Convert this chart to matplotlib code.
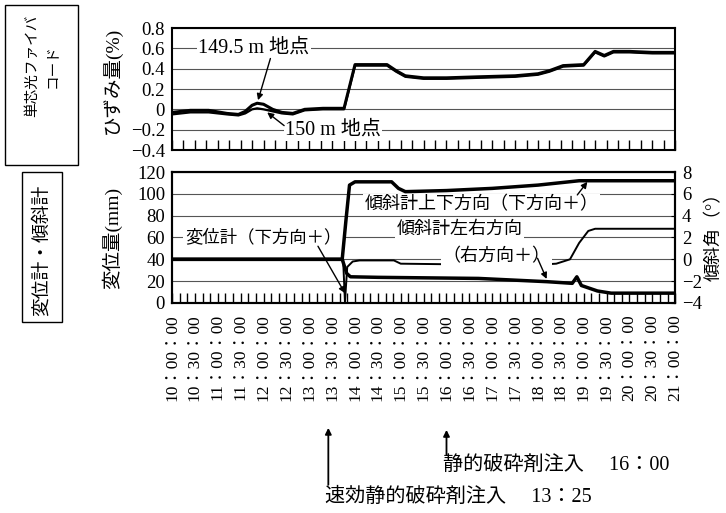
import matplotlib
matplotlib.use('Agg')
import matplotlib.pyplot as plt
import matplotlib.transforms as mtransforms
from matplotlib.patches import Rectangle
import numpy as np

plt.rcParams['font.family'] = ['Liberation Serif', 'Noto Sans CJK JP']
plt.rcParams['axes.linewidth'] = 1.5

# strain along the optical fibre (%), time in hours
t_strain = [10.0, 10.4, 10.8, 11.2, 11.45, 11.6, 11.75, 11.86, 12.0, 12.2, 12.4, 12.64,
            12.9, 13.3, 13.76, 14.0, 14.3, 14.7, 14.9, 15.1, 15.5, 16.0, 16.7, 17.5,
            18.0, 18.25, 18.55, 19.0, 19.25, 19.45, 19.65, 20.0, 20.5, 21.0]
strain_1495 = [-0.03, -0.01, -0.01, -0.04, -0.05, -0.02, 0.04, 0.06, 0.05, 0.0, -0.03, -0.04,
               0.0, 0.01, 0.01, 0.44, 0.44, 0.44, 0.38, 0.33, 0.31, 0.31, 0.32, 0.33,
               0.35, 0.38, 0.43, 0.44, 0.57, 0.53, 0.57, 0.57, 0.56, 0.56]
strain_150 = [-0.05, -0.03, -0.03, -0.05, -0.06, -0.04, 0.0, 0.01, 0.0, -0.02, -0.04, -0.05,
              -0.01, 0.0, 0.0, 0.43, 0.43, 0.43, 0.37, 0.32, 0.30, 0.30, 0.31, 0.32,
              0.34, 0.37, 0.42, 0.43, 0.56, 0.52, 0.56, 0.56, 0.55, 0.55]

# displacement meter, downward positive (mm)
t_disp = [10.0, 13.74, 13.78, 13.83, 13.95, 14.1, 14.85, 15.0, 16.0, 17.0, 18.0, 18.4,
          18.7, 18.9, 19.1, 19.25, 21.0]
disp = [40, 40, 1, 33, 38, 39, 39, 36, 35.5, 35, 35, 36, 40, 55, 66, 68, 68]

# inclinometer, up-down (deg)
t_ud = [10.0, 13.72, 13.8, 13.88, 14.0, 14.8, 14.95, 15.1, 16.0, 17.0, 18.0, 18.9, 21.0]
tilt_ud = [0, 0, 3.5, 6.8, 7.1, 7.1, 6.5, 6.2, 6.3, 6.5, 6.8, 7.2, 7.2]

# inclinometer, left-right (deg)
t_lr = [10.0, 13.72, 13.82, 13.9, 14.5, 16.7, 18.2, 18.75, 18.85, 18.95, 19.3, 19.6, 21.0]
tilt_lr = [0, 0, -1.3, -1.6, -1.65, -1.75, -2.05, -2.2, -1.6, -2.4, -2.9, -3.1, -3.1]

time_ticks = [10.0, 10.5, 11.0, 11.5, 12.0, 12.5, 13.0, 13.5, 14.0, 14.5, 15.0, 15.5,
              16.0, 16.5, 17.0, 17.5, 18.0, 18.5, 19.0, 19.5, 20.0, 20.5, 21.0]
time_labels = ['10：00：00', '10：30：00', '11：00：00', '11：30：00', '12：00：00',
               '12：30：00', '13：00：00', '13：30：00', '14：00：00', '14：30：00',
               '15：00：00', '15：30：00', '16：00：00', '16：30：00', '17：00：00',
               '17：30：00', '18：00：00', '18：30：00', '19：00：00', '19：30：00',
               '20：00：00', '20：30：00', '21：00：00']
strain_ticks = [-0.4, -0.2, 0, 0.2, 0.4, 0.6, 0.8]
strain_labels = ['−0.4', '−0.2', '0', '0.2', '0.4', '0.6', '0.8']
disp_ticks = [0, 20, 40, 60, 80, 100, 120]
tilt_ticks = [-4, -2, 0, 2, 4, 6, 8]
tilt_labels = ['−4', '−2', '0', '2', '4', '6', '8']

t_quick = 13 + 25 / 60   # 速効静的破砕剤
t_static = 16.0          # 静的破砕剤

arrow = dict(arrowstyle='-|>', color='k', lw=1.0, mutation_scale=9, shrinkA=0, shrinkB=0)
wbox = dict(fc='white', ec='none', pad=1)

fig = plt.figure(figsize=(7.26, 5.13), dpi=100)
ax1 = fig.add_axes([0.237, 0.7076, 0.693, 0.2378])
ax2 = fig.add_axes([0.237, 0.4094, 0.693, 0.2553])
ax3 = ax2.twinx()

# --- strain panel
ax1.plot(t_strain, strain_1495, color='k', lw=2.2)
ax1.plot(t_strain, strain_150, color='k', lw=1.6)
ax1.set_xlim(10, 21)
ax1.set_ylim(-0.4, 0.8)
ax1.set_yticks(strain_ticks)
ax1.set_yticklabels(strain_labels, fontsize=13.5)
ax1.set_xticks(np.arange(10, 21.01, 0.25))
ax1.set_xticklabels([])
ax1.tick_params(axis='x', direction='in', length=7, width=1)
ax1.tick_params(axis='y', length=0, pad=5)
ax1.grid(axis='y', color='#555555', lw=0.8)

ax1.text(10.57, 0.6, '149.5 m 地点', fontsize=14.5, ha='left', va='center', bbox=wbox)
ax1.annotate('', xy=(11.88, 0.09), xytext=(12.15, 0.5), arrowprops=arrow)
ax1.text(12.47, -0.2, '150 m 地点', fontsize=14.5, ha='left', va='center', bbox=wbox)
ax1.annotate('', xy=(12.08, -0.03), xytext=(12.45, -0.16), arrowprops=arrow)

# --- displacement / tilt panel
ax2.plot(t_disp, disp, color='k', lw=1.4)
ax2.set_xlim(10, 21)
ax2.set_ylim(0, 120)
ax2.set_yticks(disp_ticks)
ax2.set_yticklabels([str(v) for v in disp_ticks], fontsize=13.5)
ax2.set_xticks(time_ticks)
ax2.set_xticklabels(time_labels, rotation=90, fontsize=12.5)
ax2.set_xticks(np.arange(10, 21.01, 1 / 6), minor=True)
ax2.tick_params(axis='x', which='both', direction='in', length=7, width=1, pad=8)
ax2.tick_params(axis='y', length=0, pad=5)
ax2.grid(axis='y', color='#555555', lw=0.8)

ax3.plot(t_ud, tilt_ud, color='k', lw=2.5)
ax3.plot(t_lr, tilt_lr, color='k', lw=2.5)
ax3.set_ylim(-4, 8)
ax3.set_yticks(tilt_ticks)
ax3.set_yticklabels(tilt_labels, fontsize=13.5)
ax3.tick_params(axis='y', direction='in', length=3, pad=5)

ax2.text(10.28, 60, '変位計（下方向＋）', fontsize=12.5, ha='left', va='center', bbox=wbox)
ax2.annotate('', xy=(13.78, 9), xytext=(13.19, 52), arrowprops=arrow)
ax2.text(14.21, 90.5, '傾斜計上下方向（下方向＋）', fontsize=13, ha='left', va='center', bbox=wbox)
ax2.annotate('', xy=(19.08, 111), xytext=(18.86, 99), arrowprops=arrow)
ax2.text(14.91, 67.4, '傾斜計左右方向', fontsize=13, ha='left', va='center', bbox=wbox)
ax2.text(15.92, 42.5, '（右方向＋）', fontsize=13, ha='left', va='center', bbox=wbox)
ax2.annotate('', xy=(18.19, 22), xytext=(17.99, 41), arrowprops=arrow)

# injection times below the time axis
blend = mtransforms.blended_transform_factory(ax2.transData, fig.transFigure)
ax2.annotate('', xy=(t_quick, 0.166), xycoords=blend, xytext=(t_quick, 0.055),
             textcoords=blend, arrowprops=dict(arrow, lw=1.3), annotation_clip=False)
ax2.text(t_quick - 0.07, 0.031, '速効静的破砕剤注入　 13：25', transform=blend,
         fontsize=14.5, ha='left', va='center')
ax2.annotate('', xy=(t_static, 0.162), xycoords=blend, xytext=(t_static, 0.113),
             textcoords=blend, arrowprops=dict(arrow, lw=1.3), annotation_clip=False)
ax2.text(t_static - 0.07, 0.09, '静的破砕剤注入　 16：00', transform=blend,
         fontsize=14.5, ha='left', va='center')

# axis titles and side boxes
fig.text(112 / 726, 1 - 80 / 513, 'ひずみ量(%)', rotation=90, fontsize=14, ha='center', va='center')
fig.text(112 / 726, 1 - 238 / 513, '変位量(mm)', rotation=90, fontsize=14, ha='center', va='center')
fig.text(714 / 726, 1 - 232 / 513, '傾斜角（°）', rotation=90, fontsize=13, ha='center', va='center')

fig.add_artist(Rectangle((5 / 726, 1 - 165 / 513), 73 / 726, 160 / 513,
                         transform=fig.transFigure, fill=False, ec='k', lw=1))
fig.text(42 / 726, 1 - 66 / 513, '単芯光ファイバ\nコード', rotation=90, fontsize=10.5,
         ha='center', va='center', multialignment='center', linespacing=1.7)
fig.add_artist(Rectangle((22 / 726, 1 - 322 / 513), 40 / 726, 150 / 513,
                         transform=fig.transFigure, fill=False, ec='k', lw=1))
fig.text(42 / 726, 1 - 250 / 513, '変位計・傾斜計', rotation=90, fontsize=13.5,
         ha='center', va='center')

fig.savefig('out.png', dpi=100)
